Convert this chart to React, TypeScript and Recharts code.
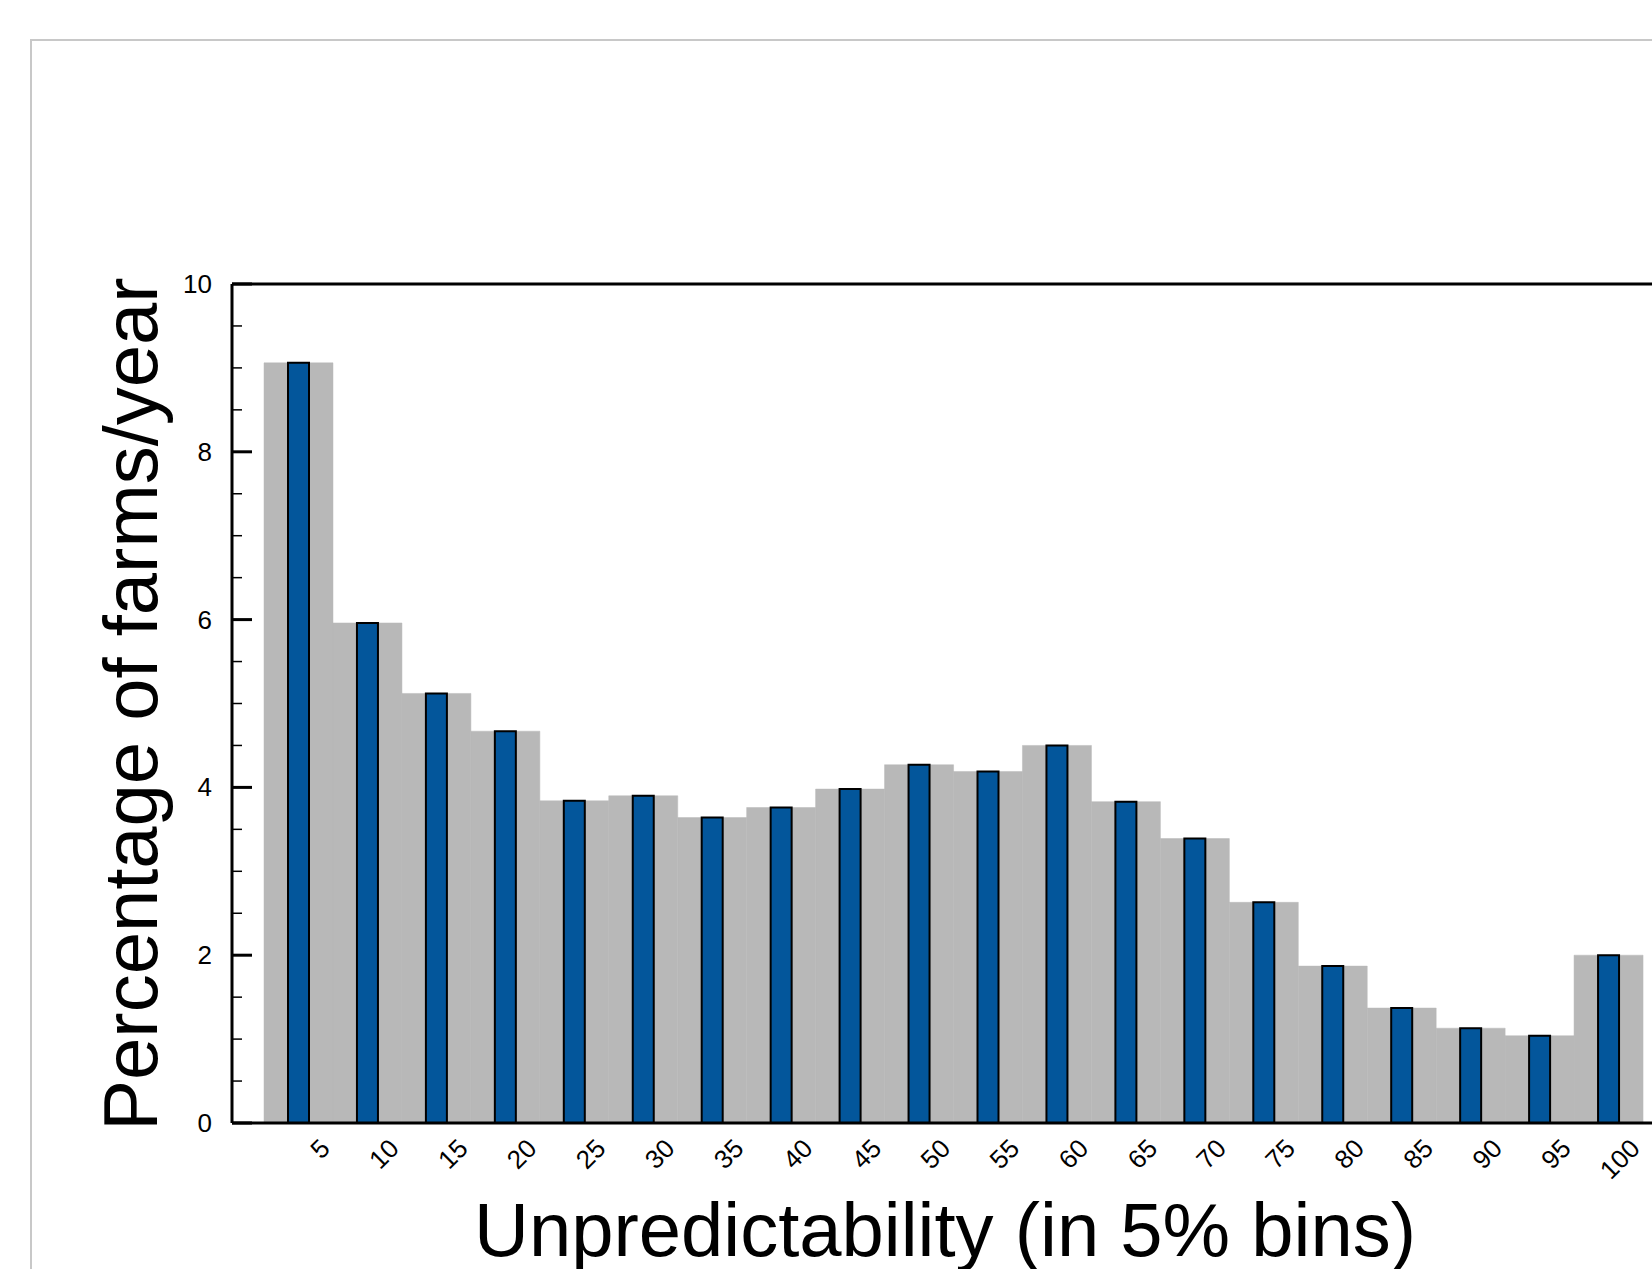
import { BarChart, Bar, XAxis, YAxis, ReferenceLine } from "recharts";

// 5% unpredictability bins and the share of farms per year in each
const BINS = ["5", "10", "15", "20", "25", "30", "35", "40", "45", "50", "55", "60", "65", "70", "75", "80", "85", "90", "95", "100"];
const FARMS_PCT = [9.06, 5.96, 5.12, 4.67, 3.84, 3.9, 3.64, 3.76, 3.98, 4.27, 4.19, 4.5, 3.83, 3.39, 2.63, 1.87, 1.37, 1.13, 1.04, 2.0];
const Y_TICKS = [0, 0.5, 1, 1.5, 2, 2.5, 3, 3.5, 4, 4.5, 5, 5.5, 6, 6.5, 7, 7.5, 8, 8.5, 9, 9.5, 10];
const Y_LABELS = [0, 2, 4, 6, 8, 10];
const Y_MAX = 10;

const FONT = "'Liberation Sans', Arial, Helvetica, sans-serif";

const data = BINS.map((bin, i) => ({ bin, pct: FARMS_PCT[i] }));

const YTick = ({ x, y, payload }: any) => {
    const major = Y_LABELS.includes(payload.value);
    return (
        <g>
            <line x1={x} x2={x + (major ? 20 : 10)} y1={y} y2={y} stroke="#000" strokeWidth={major ? 3 : 1.5} />
            {major && (
                <text x={x - 20} y={y + 9} textAnchor="end" fontSize={26} fontFamily={FONT} fill="#000">
                    {payload.value}
                </text>
            )}
        </g>
    );
};

const XTick = ({ x, y, payload }: any) => {
    const ax = x + 33;
    const ay = y + 27;
    return (
        <text x={ax} y={ay} textAnchor="end" fontSize={26} fontFamily={FONT} fill="#000"
            transform={`rotate(-45 ${ax} ${ay})`}>
            {payload.value}
        </text>
    );
};

export default function App() {
    return (
        <div style={styles.page}>
            <div style={styles.frame} />
            <div style={styles.chart}>
                <BarChart width={1700} height={1269} data={data} barCategoryGap={0}
                    margin={{ top: 284, right: 25, bottom: 0, left: 0 }}>
                    <XAxis xAxisId="a" dataKey="bin" height={146} padding={{ left: 32, right: 32 }}
                        interval={0} tickLine={false} tickSize={0} tickMargin={0} tick={<XTick />}
                        axisLine={{ stroke: "#000", strokeWidth: 3 }} />
                    <XAxis xAxisId="b" dataKey="bin" hide padding={{ left: 32, right: 32 }} />
                    <YAxis width={232} type="number" domain={[0, Y_MAX]} ticks={Y_TICKS} interval={0}
                        tickLine={false} tickSize={0} tickMargin={0} tick={<YTick />}
                        axisLine={{ stroke: "#000", strokeWidth: 3 }} />
                    <Bar xAxisId="a" dataKey="pct" fill="#b8b8b8" stroke="#b8b8b8" strokeWidth={0.5}
                        isAnimationActive={false} />
                    <Bar xAxisId="b" dataKey="pct" barSize={21} fill="#03569b" stroke="#000" strokeWidth={2}
                        isAnimationActive={false} />
                    <ReferenceLine xAxisId="a" y={Y_MAX} stroke="#000" strokeWidth={3} />
                </BarChart>
            </div>
            <svg width={1652} height={1269} style={styles.overlay}>
                <text x={157} y={704} textAnchor="middle" fontSize={76} fontFamily={FONT}
                    transform="rotate(-90 157 704)">Percentage of farms/year</text>
                <text x={945} y={1256} textAnchor="middle" fontSize={76} fontFamily={FONT}>
                    Unpredictability (in 5% bins)
                </text>
            </svg>
        </div>
    );
}

const styles: Record<string, React.CSSProperties> = {
    page: { position: "fixed", left: 0, top: 0, width: 1652, height: 1269, overflow: "hidden", background: "white" },
    frame: { position: "absolute", left: 30, top: 39, width: 1700, height: 1400, border: "2px solid #c8c8c8" },
    chart: { position: "absolute", left: 0, top: 0 },
    overlay: { position: "absolute", left: 0, top: 0, pointerEvents: "none" },
};
